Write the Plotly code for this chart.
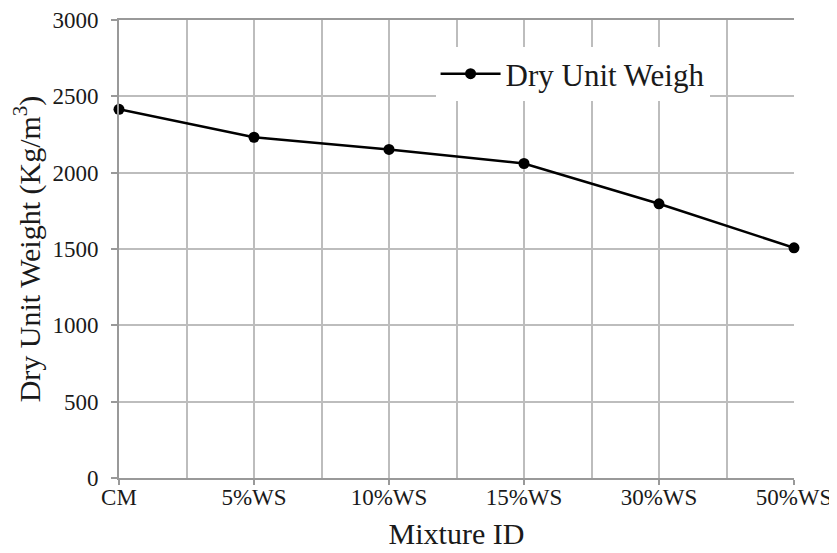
import plotly.graph_objects as go

categories = ["CM", "5%WS", "10%WS", "15%WS", "30%WS", "50%WS"]
dry_unit_weight = [2415, 2232, 2152, 2060, 1796, 1508]
y_ticks = [0, 500, 1000, 1500, 2000, 2500, 3000]

x_idx = list(range(len(categories)))

fig = go.Figure()
fig.add_trace(go.Scatter(
    x=x_idx, y=dry_unit_weight, mode="lines+markers",
    name="Dry Unit Weigh",
    line=dict(color="black", width=2.5),
    marker=dict(color="black", size=11),
    cliponaxis=False,
))

font_family = "Liberation Serif, Times New Roman, serif"
txt = "#1a1a1a"
grid = "#bdbdbd"
axc = "#999999"
fig.update_layout(
    width=837, height=553,
    margin=dict(l=111, r=51, t=12, b=83, autoexpand=False),
    paper_bgcolor="white", plot_bgcolor="white",
    font=dict(family=font_family, color=txt, size=23),
    showlegend=True,
    legend=dict(x=0.469, y=0.882, xanchor="left", yanchor="middle",
                bgcolor="white", font=dict(size=31, family=font_family, color=txt),
                itemwidth=60),
    xaxis=dict(
        range=[0, len(categories) - 1], automargin=False,
        tickmode="array", tickvals=x_idx, ticktext=categories,
        showgrid=True, gridcolor=grid, gridwidth=2,
        minor=dict(dtick=0.5, showgrid=True, gridcolor=grid, gridwidth=2),
        showline=True, linecolor=axc, linewidth=2, mirror=True,
        ticks="outside", ticklen=5, tickcolor=axc, tickwidth=2,
        ticklabelstandoff=-8, ticklabeloverflow="allow",
        tickfont=dict(size=23, family=font_family, color=txt),
        title=dict(text="Mixture ID", font=dict(size=30, family=font_family, color=txt), standoff=14),
        zeroline=False,
    ),
    yaxis=dict(
        range=[0, 3000], tickmode="array", tickvals=y_ticks, automargin=False,
        showgrid=True, gridcolor=grid, gridwidth=2,
        showline=True, linecolor=axc, linewidth=2,
        ticks="outside", ticklen=6, tickcolor=axc, tickwidth=2,
        ticklabelstandoff=8, ticklabeloverflow="allow",
        tickfont=dict(size=23, family=font_family, color=txt),
        title=dict(text="Dry Unit Weight (Kg/m<sup>3</sup>)", font=dict(size=30, family=font_family, color=txt), standoff=10),
        zeroline=False,
    ),
)

fig.write_html("out.html")
